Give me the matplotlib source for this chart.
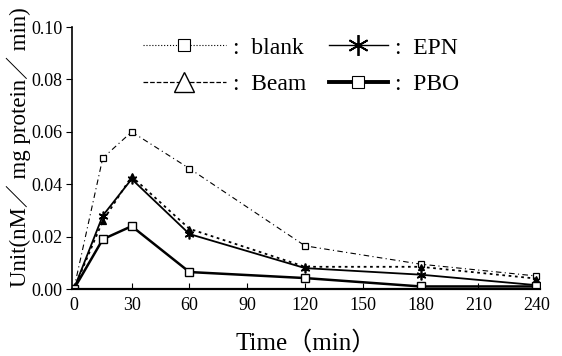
import matplotlib.pyplot as plt
from matplotlib.lines import Line2D

plt.rcParams['font.family'] = ['Liberation Serif', 'Noto Sans CJK SC']

time = [0, 15, 30, 60, 120, 180, 240]
blank = [0.0, 0.050, 0.060, 0.046, 0.0165, 0.0095, 0.005]
beam = [0.0, 0.026, 0.043, 0.023, 0.0085, 0.0085, 0.004]
epn = [0.0, 0.028, 0.042, 0.021, 0.008, 0.0055, 0.0015]
pbo = [0.0, 0.019, 0.024, 0.0065, 0.0042, 0.001, 0.001]

xticks = [0, 30, 60, 90, 120, 150, 180, 210, 240]
yticks = [0.00, 0.02, 0.04, 0.06, 0.08, 0.10]

fig = plt.figure(figsize=(5.62, 3.56), dpi=100)
ax = fig.add_axes([0.128, 0.188, 0.833, 0.736])

ax.plot(time, blank, color='black', lw=0.8, ls=(0, (5, 3, 1, 3)),
        marker='s', ms=5, mfc='white', mew=0.9)
ax.plot(time, beam, color='black', lw=1.3, ls=(0, (1.5, 2)),
        marker='^', ms=5, mfc='black', mew=0.9)
ax.plot(time, epn, color='black', lw=1.3, ls='-',
        marker=(6, 2, 0), ms=7, mew=1.2)
ax.plot(time, pbo, color='black', lw=1.8, ls='-',
        marker='s', ms=6, mfc='white', mew=1.0)

ax.set_xlim(-1, 242)
ax.set_ylim(0, 0.10)
ax.set_xticks(xticks)
ax.set_yticks(yticks)
ax.set_yticklabels([f'{v:.2f}' for v in yticks])
ax.tick_params(axis='x', direction='in', length=4, labelsize=13, pad=6)
ax.tick_params(axis='y', direction='out', length=4, labelsize=13, pad=3)
for s in ['top', 'right']:
    ax.spines[s].set_visible(False)
ax.spines['left'].set_linewidth(1.2)
ax.spines['bottom'].set_linewidth(1.6)

ax.set_xlabel('Time（min）', fontsize=18)
ax.xaxis.set_label_coords(0.5, -0.16)
ax.set_ylabel('Unit(nM／ mg protein／ min)', fontsize=16.5)
ax.yaxis.set_label_coords(-0.088, 0.54)

h_left = [
    Line2D([], [], color='black', lw=0.8, ls=':', marker='s', ms=8, mfc='white', mew=0.8),
    Line2D([], [], color='black', lw=0.9, ls='--', marker='^', ms=15, mfc='white', mew=1.0),
]
h_right = [
    Line2D([], [], color='black', lw=1.0, ls='-', marker=(6, 2, 0), ms=15, mew=1.3),
    Line2D([], [], color='black', lw=2.8, ls='-', marker='s', ms=9, mfc='white', mew=0.8),
]
leg1 = ax.legend(h_left, [':  blank', ':  Beam'], frameon=False, loc='upper left',
                 bbox_to_anchor=(0.152, 0.962), borderpad=0, borderaxespad=0,
                 fontsize=17, handlelength=3.5, labelspacing=0.65, handletextpad=0.3)
ax.add_artist(leg1)
ax.legend(h_right, [':  EPN', ':  PBO'], frameon=False, loc='upper left',
          bbox_to_anchor=(0.549, 0.962), borderpad=0, borderaxespad=0,
          fontsize=17, handlelength=2.5, labelspacing=0.65, handletextpad=0.3)

fig.savefig('out.png', dpi=100)
